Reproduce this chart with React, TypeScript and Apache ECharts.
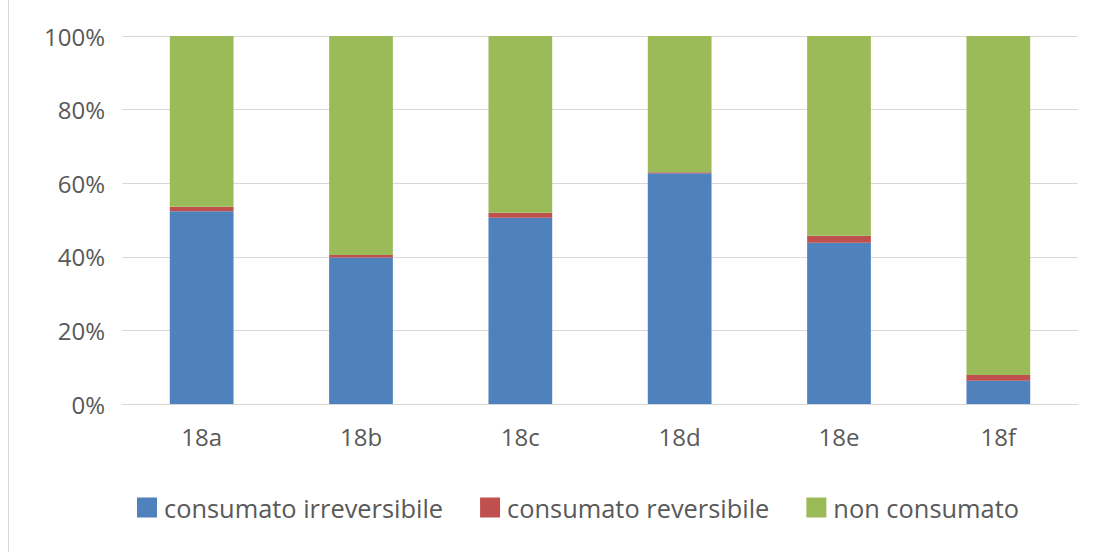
import React, { useEffect, useRef } from "react";
import * as echarts from "echarts";

const categories = ["18a", "18b", "18c", "18d", "18e", "18f"];
const irreversibile = [52.4, 39.8, 50.6, 62.7, 43.8, 6.3];
const reversibile = [1.2, 0.7, 1.4, 0.3, 1.9, 1.6];
const nonConsumato = [46.4, 59.5, 48.0, 37.0, 54.3, 92.1];
const seriesNames = ["consumato irreversibile", "consumato reversibile", "non consumato"];
const colors = ["#4F81BD", "#C0504D", "#9BBB59"];

export default function App() {
  const ref = useRef<HTMLDivElement>(null);
  useEffect(() => {
    if (!ref.current) return;
    const chart = echarts.init(ref.current, undefined, { renderer: "svg" });
    const font = "'Open Sans', Lato, sans-serif";
    const data = [irreversibile, reversibile, nonConsumato];
    chart.setOption({
      animation: false,
      backgroundColor: "#ffffff",
      grid: { left: 122, right: 19, top: 36, bottom: 148, containLabel: false },
      legend: {
        data: seriesNames,
        left: 132,
        top: 490,
        itemWidth: 20,
        itemHeight: 20,
        itemGap: 37,
        icon: "rect",
        textStyle: { color: "#595959", fontSize: 25.4, fontFamily: font, padding: [0, 0, 0, 2] },
      },
      xAxis: {
        type: "category",
        data: categories,
        axisLine: { lineStyle: { color: "#D9D9D9" } },
        axisTick: { show: false },
        axisLabel: { color: "#595959", fontSize: 24, fontFamily: font, margin: 20 },
      },
      yAxis: {
        type: "value",
        min: 0,
        max: 100,
        interval: 20,
        axisLine: { show: false },
        axisTick: { show: false },
        splitLine: { lineStyle: { color: "#D9D9D9" } },
        axisLabel: {
          color: "#595959",
          fontSize: 24,
          fontFamily: font,
          margin: 17,
          formatter: (v: number) => v + "%",
        },
      },
      graphic: [
        {
          type: "line",
          shape: { x1: 8.5, y1: 0, x2: 8.5, y2: 552 },
          style: { stroke: "#D9D9D9", lineWidth: 1 },
        },
      ],
      series: seriesNames.map((name, i) => ({
        name,
        type: "bar",
        stack: "total",
        barWidth: "40%",
        data: data[i],
        itemStyle: { color: colors[i] },
      })),
    });
    return () => chart.dispose();
  }, []);
  return (
    <div
      ref={ref}
      style={{ position: "absolute", left: 0, top: 0, width: 1097, height: 552 }}
    />
  );
}
